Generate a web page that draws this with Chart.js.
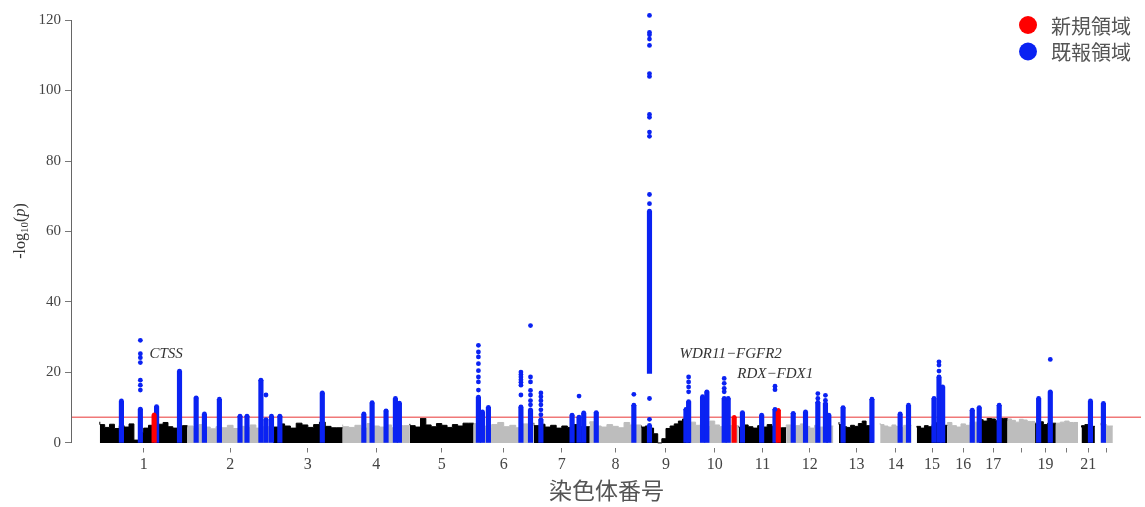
<!DOCTYPE html>
<html>
<head>
<meta charset="utf-8">
<script src="https://cdn.jsdelivr.net/npm/chart.js@4.4.0/dist/chart.umd.min.js"></script>
<style>
  html, body { margin: 0; padding: 0; background: #fff; }
</style>
</head>
<body>
<canvas id="chart" width="1145" height="507"></canvas>
<script>
// chromosome layout (Mb)
const chrNames   = ['1','2','3','4','5','6','7','8','9','10','11','12','13','14','15','16','17','18','19','20','21','22'];
const chrLabels  = ['1','2','3','4','5','6','7','8','9','10','11','12','13','14','15','16','17','','19','','21',''];
const chrLengths = [249,243,198,191,181,171,159,146,141,136,135,134,115,107,102,90,81,78,59,63,48,51];
const chrOffsets = [0,0,0,0,0,0,0,0,0,0,0,0,16,18,15,0,0,0,0,0,10,16]; // first SNP of acrocentric arms

// non-significant background (-log10 p), read left to right per chromosome
const backgroundHeights = [
  [6.0,5.2,4.4,5.3,4.1,4.9,4.5,5.4,0.8,3.0,4.2,5.0,4.4,5.3,5.8,4.6,4.2,4.9],
  [4.4,4.8,4.2,5.2,4.5,4.0,4.6,4.3,5.0,4.1,4.7,4.4,5.1,4.2,4.6],
  [5.0,4.5,5.4,4.8,4.2,5.6,5.1,4.4,5.2,5.9,4.7,4.3],
  [5.2,4.6,4.4,5.0,4.2,5.5,4.8,4.5,5.1,4.3,4.9],
  [5.4,4.9,4.5,7.0,5.1,4.6,5.5,5.0,4.4,5.2,4.8,5.6],
  [5.1,5.5,4.8,4.4,5.2,5.8,4.6,5.0,4.3,5.4],
  [5.7,4.9,5.3,4.5,5.0,4.2,4.8,4.4,5.2,4.6],
  [5.4,6.0,4.8,4.5,5.2,4.7,4.3,5.8,5.1],
  [5.0,4.5,4.8,4.2,2.6,0,1.2,4.1,4.8,5.4,6.2,6.8],
  [5.2,5.9,5.0,5.5,4.7,6.2,5.1,4.6,5.4,4.9],
  [4.8,4.4,5.1,4.6,4.2,4.9,4.5,5.2,4.7,4.3],
  [4.6,5.1,4.4,4.9,5.4,4.7,4.2,5.0,4.5,4.8],
  [5.9,5.2,4.6,4.4,5.0,4.7,5.5,6.2,4.9],
  [5.6,5.2,4.8,4.5,5.1,4.7,4.4,5.0],
  [4.4,4.7,4.2,4.9,4.6,5.2,5.7,5.0],
  [5.2,5.8,4.9,4.5,5.4,5.0,5.9],
  [6.0,6.6,6.2,7.2,6.8,6.3,6.9],
  [6.2,6.8,6.4,5.9,6.7,6.5,6.1],
  [5.8,5.4,6.0,5.2,5.6],
  [5.0,5.6,5.9,6.2,5.8],
  [4.4,4.9,5.2,4.7],
  [5.0,5.6,5.2,4.8]
];

// known loci: genome position (cumulative Mb), column bottom and top
const knownPos = [61.4,115.2,161.3,226.4,273.7,297.2,339.7,398.3,418.1,457.7,472.1,487.7,511.5,632.1,
  750.1,773.6,813.2,839.8,851.1,1075.6,1087.0,1104.0,1196.4,1223.6,1253.1,1341.7,1361.5,1374.8,1410.4,
  1517.2,1561.6,1561.6,1665.2,1672.8,1712.4,1724.6,1773.9,1785.2,1825.7,1880.3,1918.2,1970.0,2004.9,
  2039.9,2061.5,2071.1,2111.6,2193.6,2273.7,2297.5,2369.9,2384.1,2394.5,2478.6,2498.4,2555.1,2667.2,
  2700.3,2814.4,2851.2];
const knownLo = [0,0,0,0,0,0,0,0,0,0,0,0,0,0,0,0,0,0,0,0,0,0,0,0,0,0,0,0,0,0,0,19.7,0,0,0,0,0,0,0,0,
  0,0,0,0,0,0,0,0,0,0,0,0,0,0,0,0,0,0,0,0];
const knownHi = [11.9,9.6,10.3,20.4,12.8,8.2,12.4,7.6,7.6,17.8,6.6,7.6,7.6,14.2,
  8.2,11.4,9.1,12.6,11.3,13.0,8.8,10.1,10.2,9.4,6.6,7.9,7.3,8.5,8.6,
  10.7,5.0,65.8,9.5,11.7,13.1,14.5,12.6,12.6,8.6,7.9,9.5,8.4,8.8,
  11.5,11.2,7.9,10.0,12.4,8.2,10.7,12.6,18.7,15.9,9.3,10.0,10.7,12.6,
  14.5,11.9,11.2];

// separate SNP dots above the columns of known loci
const knownDotPos = [115.2,115.2,115.2,115.2,115.2,115.2,115.2,472.1,
  1075.6,1075.6,1075.6,1075.6,1075.6,1075.6,1075.6,1075.6,
  1196.4,1196.4,1196.4,1196.4,1196.4,1196.4,1196.4,
  1223.6,1223.6,1223.6,1223.6,1223.6,1223.6,1223.6,
  1253.1,1253.1,1253.1,1253.1,1253.1,1253.1,1361.5,1517.2,
  1561.6,1561.6,1561.6,1561.6,1561.6,1561.6,1561.6,1561.6,1561.6,1561.6,1561.6,1561.6,1561.6,1561.6,1561.6,
  1672.8,1672.8,1672.8,1672.8,1773.9,1773.9,1773.9,1773.9,1918.2,1918.2,
  2039.9,2039.9,2061.5,2061.5,2384.1,2384.1,2384.1,2700.3];
const knownDotVal = [29.1,25.3,24.2,22.8,17.8,16.4,15.0,13.6,
  27.7,25.8,24.4,22.5,20.5,18.7,17.3,15.0,
  20.1,19.4,18.7,17.9,17.2,16.4,13.6,
  33.3,18.7,17.3,14.9,13.6,12.0,10.8,
  14.2,13.1,12.0,10.8,9.4,8.0,13.3,13.8,
  121.3,116.5,115.8,114.6,112.8,104.8,104.0,93.2,92.4,88.2,87.0,70.5,67.9,12.6,6.7,
  18.7,17.3,15.9,14.5,18.3,16.9,15.5,14.5,16.1,15.1,
  14.0,12.6,13.5,12.1,23.0,22.1,20.4,23.7];

// novel loci
const novelPos = [154.3,1802.2,1927.6];
const novelHi  = [8.0,7.3,9.3];

const threshold = 7.3;
const yTicks = [0,20,40,60,80,100,120];

const genes    = ['CTSS','WDR11\u2212FGFR2','RDX\u2212FDX1'];
const genePos  = [141,1647,1811];
const geneVal  = [25.1,25.1,19.5];

const legendLabels = ['新規領域','既報領域'];
const legendColors = ['#ff0000','#0a22f2'];

const BLUE = '#0a22f2', RED = '#ff0000', GREY = '#bdbdbd', BLACK = '#000000';

// chromosome starts
const chrStart = [];
chrLengths.reduce((acc, len, i) => { chrStart[i] = acc; return acc + len; }, 0);
const tickValues = chrNames.map((n, i) => chrStart[i] + (chrOffsets[i] + chrLengths[i]) / 2);

const datasets = [];

// dots on top
datasets.push({
  type: 'scatter', label: 'dotsKnown', clip: false,
  data: knownDotPos.map((p, i) => ({x: p, y: knownDotVal[i]}))
    .concat(knownPos.map((p, i) => ({x: p, y: knownHi[i]}))),
  backgroundColor: BLUE, borderWidth: 0, pointRadius: 2.4
});
datasets.push({
  type: 'scatter', label: 'dotsNovel',
  data: novelPos.map((p, i) => ({x: p, y: novelHi[i]})),
  backgroundColor: RED, borderWidth: 0, pointRadius: 2.2
});
// columns
const colPos = knownPos.concat(novelPos);
const colLo = knownLo.concat(novelPos.map(() => 0));
const colHi = knownHi.concat(novelHi);
const colColor = knownPos.map(() => BLUE).concat(novelPos.map(() => RED));
datasets.push({
  type: 'bar', label: 'columns',
  data: colPos.map((p, i) => ({x: p, y: [colLo[i], colHi[i]]})),
  backgroundColor: colColor, borderWidth: 0, barThickness: 4.5, borderSkipped: false
});
// threshold line
datasets.push({
  type: 'line', label: 'threshold',
  data: [{x: -79, y: threshold}, {x: 2958, y: threshold}],
  borderColor: '#f07878', borderWidth: 1.5, pointRadius: 0, fill: false
});
// background per chromosome
backgroundHeights.forEach((h, i) => {
  const start = chrStart[i] + chrOffsets[i];
  const end = chrStart[i] + chrLengths[i];
  const step = (end - start) / h.length;
  const pts = h.map((v, j) => ({x: start + j * step, y: v}));
  pts.push({x: end, y: h[h.length - 1]});
  const col = i % 2 === 0 ? BLACK : GREY;
  datasets.push({
    type: 'line', label: 'chr' + chrNames[i], data: pts, stepped: 'after',
    borderColor: col, backgroundColor: col, borderWidth: 1, pointRadius: 0, fill: 'origin'
  });
});

const decorations = {
  id: 'decorations',
  afterDatasetsDraw(chart) {
    const {ctx, scales: {x, y}} = chart;
    ctx.save();
    // y axis line from 0 to 120
    ctx.strokeStyle = '#666';
    ctx.lineWidth = 1;
    ctx.beginPath();
    const ax = Math.round(chart.chartArea.left) - 0.5;
    ctx.moveTo(ax, y.getPixelForValue(0));
    ctx.lineTo(ax, y.getPixelForValue(120));
    ctx.stroke();

    // gene labels
    ctx.fillStyle = '#333';
    ctx.font = 'italic 15px "Liberation Serif", serif';
    ctx.textAlign = 'left';
    ctx.textBaseline = 'middle';
    genes.forEach((g, i) => ctx.fillText(g, x.getPixelForValue(genePos[i]), y.getPixelForValue(geneVal[i])));

    // y axis title: -log10(p)
    ctx.translate(21, 231);
    ctx.rotate(-Math.PI / 2);
    const big = '16px "Liberation Serif", serif';
    const small = '11px "Liberation Serif", serif';
    const ital = 'italic 16px "Liberation Serif", serif';
    const parts = [['-log', big, 0], ['10', small, 4], ['(', big, 0], ['p', ital, 0], [')', big, 0]];
    let w = 0;
    parts.forEach(p => { ctx.font = p[1]; w += ctx.measureText(p[0]).width; });
    let cx = -w / 2;
    ctx.fillStyle = '#333';
    ctx.textBaseline = 'middle';
    parts.forEach(p => { ctx.font = p[1]; ctx.fillText(p[0], cx, p[2]); cx += ctx.measureText(p[0]).width; });
    ctx.restore();

    // legend
    ctx.save();
    legendLabels.forEach((lab, i) => {
      const cy = 25 + i * 26.5;
      ctx.fillStyle = legendColors[i];
      ctx.beginPath();
      ctx.arc(1028, cy, 9, 0, Math.PI * 2);
      ctx.fill();
      ctx.fillStyle = '#555';
      ctx.font = '20px "Noto Sans CJK JP", sans-serif';
      ctx.textAlign = 'left';
      ctx.textBaseline = 'middle';
      ctx.fillText(lab, 1051, cy + 1);
    });
    ctx.restore();
  }
};

new Chart(document.getElementById('chart'), {
  type: 'bar',
  data: { datasets },
  options: {
    responsive: false,
    animation: false,
    layout: { padding: { top: 11.4, right: 0, bottom: 0, left: 0 } },
    plugins: { legend: { display: false }, tooltip: { enabled: false } },
    scales: {
      x: {
        type: 'linear', min: -79, max: 2958, offset: false,
        border: { display: false },
        grid: { display: true, offset: false, drawOnChartArea: false, tickLength: 5, color: '#777' },
        afterBuildTicks: s => { s.ticks = tickValues.map(v => ({value: v})); },
        afterFit: s => { s.height = 59.5; },
        ticks: {
          autoSkip: false, maxRotation: 0, padding: 3, color: '#444',
          font: { family: '"Liberation Serif", serif', size: 16 },
          callback: (v, i) => chrLabels[i]
        },
        title: {
          display: true, text: '染色体番号', color: '#555',
          font: { family: '"Noto Sans CJK JP", sans-serif', size: 23 },
          padding: { top: 0, bottom: 3 }
        }
      },
      y: {
        type: 'linear', min: -1.3, max: 122, stacked: false,
        border: { display: false },
        grid: { display: true, drawOnChartArea: false, tickLength: 7, color: '#777' },
        afterBuildTicks: s => { s.ticks = yTicks.map(v => ({value: v})); },
        afterFit: s => { s.width = 72; },
        ticks: {
          padding: 4, color: '#444',
          font: { family: '"Liberation Serif", serif', size: 15 }
        }
      }
    }
  },
  plugins: [decorations]
});
</script>
</body>
</html>
